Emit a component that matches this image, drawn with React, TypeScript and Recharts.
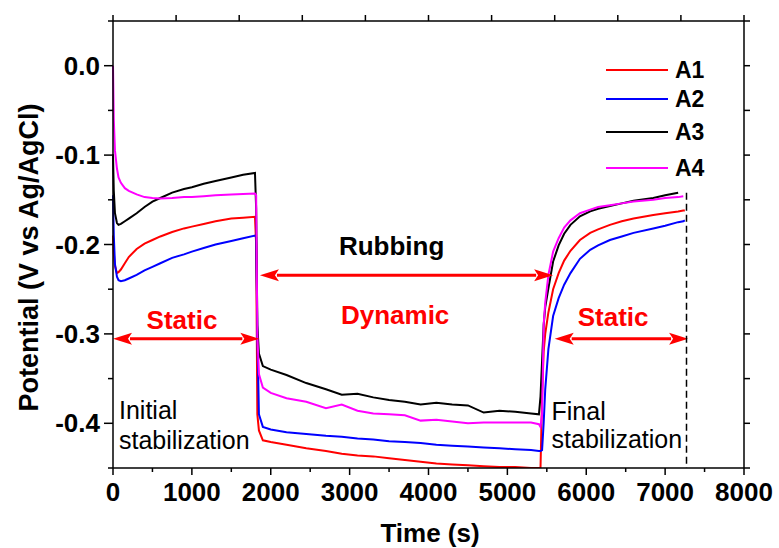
import React from 'react';
import { LineChart, Line, XAxis, YAxis, Legend, Label, ReferenceLine, ReferenceDot } from 'recharts';

const FONT = '"Liberation Sans", Arial, Helvetica, sans-serif';

// time grid (s)
const timeS = [
  0, 10, 25, 50, 70, 100, 150, 200, 300, 400, 500, 600,
  750, 900, 1000, 1150, 1300, 1500, 1650, 1800, 1815, 1830, 1850, 1900,
  2000, 2200, 2450, 2700, 2900, 3100, 3300, 3500, 3700, 3900, 4100, 4300,
  4500, 4700, 4900, 5100, 5300, 5400, 5420, 5440, 5460, 5480, 5520, 5580,
  5650, 5720, 5800, 5920, 6050, 6150, 6300, 6450, 6600, 6850, 7000, 7165,
  7230, 7250,
];

// potential (V vs Ag/AgCl)
const a1 = [
  -0.190, -0.210, -0.224, -0.232, -0.231, -0.228, -0.221, -0.214, -0.205, -0.199, -0.195, -0.191,
  -0.186, -0.182, -0.180, -0.177, -0.174, -0.171, -0.170, -0.169, -0.200, -0.390, -0.408, -0.419,
  -0.421, -0.424, -0.428, -0.431, -0.434, -0.436, -0.437, -0.439, -0.441, -0.443, -0.445, -0.446,
  -0.447, -0.448, -0.449, -0.449, -0.450, -0.450, -0.450, -0.370, -0.320, -0.300, -0.276, -0.250,
  -0.232, -0.218, -0.207, -0.195, -0.187, -0.183, -0.178, -0.174, -0.171, -0.167, -0.165, -0.163,
  -0.162, -0.162,
];
const a2 = [
  -0.145, -0.190, -0.222, -0.236, -0.240, -0.241, -0.240, -0.238, -0.234, -0.229, -0.225, -0.221,
  -0.215, -0.211, -0.208, -0.204, -0.200, -0.196, -0.193, -0.190, -0.192, -0.300, -0.390, -0.404,
  -0.407, -0.410, -0.412, -0.414, -0.415, -0.417, -0.418, -0.420, -0.421, -0.422, -0.424, -0.425,
  -0.426, -0.427, -0.428, -0.429, -0.430, -0.431, -0.431, -0.430, -0.400, -0.362, -0.317, -0.280,
  -0.260, -0.245, -0.232, -0.216, -0.206, -0.201, -0.195, -0.191, -0.187, -0.182, -0.179, -0.175,
  -0.174, -0.173,
];
const a3 = [
  -0.099, -0.140, -0.165, -0.176, -0.178, -0.177, -0.174, -0.171, -0.165, -0.158, -0.152, -0.148,
  -0.142, -0.138, -0.136, -0.132, -0.129, -0.125, -0.122, -0.120, -0.160, -0.290, -0.322, -0.336,
  -0.340, -0.346, -0.355, -0.362, -0.368, -0.367, -0.371, -0.374, -0.376, -0.379, -0.377, -0.379,
  -0.380, -0.388, -0.386, -0.387, -0.389, -0.390, -0.370, -0.330, -0.290, -0.270, -0.249, -0.219,
  -0.201, -0.188, -0.178, -0.1685, -0.163, -0.160, -0.157, -0.154, -0.151, -0.148, -0.145, -0.142,
  null, null,
];
const a4 = [
  0.000, -0.060, -0.095, -0.115, -0.125, -0.131, -0.137, -0.140, -0.144, -0.147, -0.148, -0.1485,
  -0.148, -0.147, -0.147, -0.146, -0.145, -0.144, -0.1435, -0.143, -0.145, -0.300, -0.345, -0.360,
  -0.366, -0.372, -0.376, -0.383, -0.379, -0.386, -0.389, -0.390, -0.391, -0.397, -0.396, -0.398,
  -0.400, -0.399, -0.399, -0.399, -0.399, -0.401, -0.404, -0.390, -0.290, -0.265, -0.234, -0.208,
  -0.193, -0.181, -0.173, -0.165, -0.161, -0.158, -0.156, -0.154, -0.152, -0.150, -0.148, -0.147,
  -0.146, null,
];

const seriesNames = ['A1', 'A2', 'A3', 'A4'];
const seriesColors = ['#ff0000', '#0000ff', '#000000', '#ff00ff'];

const xTicks = [0, 500, 1000, 1500, 2000, 2500, 3000, 3500, 4000, 4500, 5000, 5500, 6000, 6500, 7000, 7500, 8000];
const topTicks = [0, 800, 1600, 2400, 3200, 4000, 4800, 5600, 6400, 7200, 8000];
const yTicks = [-0.45, -0.4, -0.35, -0.3, -0.25, -0.2, -0.15, -0.1, -0.05, 0, 0.05];

const legendRowCenters = [70, 99, 132, 168];

const data = timeS.map((t, i) => ({ t, A1: a1[i], A2: a2[i], A3: a3[i], A4: a4[i] }));

const isMajorY = (v: number) => Math.abs(v * 10 - Math.round(v * 10)) < 1e-6;

function BottomTick({ x, y, payload }: any) {
  const major = payload.value % 1000 === 0;
  return (
    <g>
      <line x1={x} y1={y} x2={x} y2={y + (major ? 7 : 4)} stroke="#000" strokeWidth={1.5} />
      {major && (
        <text x={x} y={y + 33} textAnchor="middle" fontSize={26} fontWeight="bold" fontFamily={FONT} fill="#000">
          {payload.value}
        </text>
      )}
    </g>
  );
}

function LeftTick({ x, y, payload }: any) {
  const major = isMajorY(payload.value);
  return (
    <g>
      <line x1={x - (major ? 9 : 5)} y1={y} x2={x} y2={y} stroke="#000" strokeWidth={1.5} />
      {major && (
        <text x={x - 13} y={y + 9} textAnchor="end" fontSize={26} fontWeight="bold" fontFamily={FONT} fill="#000">
          {payload.value.toFixed(1)}
        </text>
      )}
    </g>
  );
}

function RightTick({ x, y }: any) {
  return <line x1={x} y1={y} x2={x + 6} y2={y} stroke="#000" strokeWidth={1.5} />;
}

function TopTick({ x, y }: any) {
  return <line x1={x} y1={y} x2={x} y2={y - 6} stroke="#000" strokeWidth={1.5} />;
}

function arrowShape(props: any) {
  const { x1, y1, x2, y2 } = props;
  const h = 19;
  const w = 6;
  return (
    <g>
      <line x1={x1 + h - 2} y1={y1} x2={x2 - h + 2} y2={y2} stroke="#ff0000" strokeWidth={3} />
      <polygon points={`${x1},${y1} ${x1 + h},${y1 - w} ${x1 + h - 4},${y1} ${x1 + h},${y1 + w}`} fill="#ff0000" />
      <polygon points={`${x2},${y2} ${x2 - h},${y2 - w} ${x2 - h + 4},${y2} ${x2 - h},${y2 + w}`} fill="#ff0000" />
    </g>
  );
}

function textShape(text: string, color: string, bold: boolean, anchor: 'start' | 'middle') {
  return (p: any) => (
    <text
      x={p.cx}
      y={p.cy}
      textAnchor={anchor}
      fontSize={bold ? 26 : 25}
      fontWeight={bold ? 'bold' : 'normal'}
      fontFamily={FONT}
      fill={color}
    >
      {text}
    </text>
  );
}

function LegendBox({ payload }: any) {
  return (
    <div style={{ position: 'relative' }}>
      {(payload || []).map((p: any, i: number) => (
        <div
          key={p.value}
          style={{
            position: 'absolute',
            left: 0,
            top: legendRowCenters[i] - 13,
            height: 26,
            display: 'flex',
            alignItems: 'center',
            whiteSpace: 'nowrap',
          }}
        >
          <div style={{ width: 62, height: 2, background: p.color, marginRight: 7 }} />
          <span style={{ fontFamily: FONT, fontWeight: 'bold', fontSize: 23, lineHeight: '26px', color: '#000' }}>
            {p.value}
          </span>
        </div>
      ))}
    </div>
  );
}

export default function App() {
  return (
    <div style={{ position: 'absolute', left: 0, top: 0, width: 779, height: 548, background: '#fff' }}>
      <LineChart width={779} height={548} data={data} margin={{ top: 15, right: 25, bottom: 20, left: 13 }}>
        <XAxis
          xAxisId="bottom"
          dataKey="t"
          type="number"
          domain={[0, 8000]}
          ticks={xTicks}
          interval={0}
          height={60}
          tickSize={0}
          tickMargin={0}
          tickLine={false}
          tick={<BottomTick />}
          axisLine={{ stroke: '#000', strokeWidth: 1.5 }}
        >
          <Label
            content={({ viewBox }: any) => (
              <text
                x={viewBox.x + viewBox.width / 2 + 1.5}
                y={viewBox.y + 74}
                textAnchor="middle"
                fontSize={26}
                fontWeight="bold"
                fontFamily={FONT}
                fill="#000"
              >
                Time (s)
              </text>
            )}
          />
        </XAxis>
        <XAxis
          xAxisId="top"
          orientation="top"
          dataKey="t"
          type="number"
          domain={[0, 8000]}
          allowDataOverflow
          ticks={topTicks}
          interval={0}
          height={6}
          tickSize={0}
          tickMargin={0}
          tickLine={false}
          tick={<TopTick />}
          axisLine={{ stroke: '#000', strokeWidth: 1.5 }}
        />
        <YAxis
          yAxisId="left"
          type="number"
          domain={[-0.45, 0.05]}
          allowDataOverflow
          ticks={yTicks}
          interval={0}
          width={100}
          tickSize={0}
          tickMargin={0}
          tickLine={false}
          tick={<LeftTick />}
          axisLine={{ stroke: '#000', strokeWidth: 1.5 }}
        >
          <Label
            content={({ viewBox }: any) => {
              const cx = viewBox.x + 24.5;
              const cy = viewBox.y + viewBox.height / 2 + 13;
              return (
                <text
                  x={cx}
                  y={cy}
                  transform={`rotate(-90 ${cx} ${cy})`}
                  textAnchor="middle"
                  fontSize={27}
                  fontWeight="bold"
                  fontFamily={FONT}
                  fill="#000"
                >
                  Potential (V vs Ag/AgCl)
                </text>
              );
            }}
          />
        </YAxis>
        <YAxis
          yAxisId="right"
          orientation="right"
          type="number"
          domain={[-0.45, 0.05]}
          allowDataOverflow
          ticks={yTicks}
          interval={0}
          width={10}
          tickSize={0}
          tickMargin={0}
          tickLine={false}
          tick={<RightTick />}
          axisLine={{ stroke: '#000', strokeWidth: 1.5 }}
        />
        <Legend
          layout="vertical"
          align="center"
          verticalAlign="middle"
          content={<LegendBox />}
          wrapperStyle={{ left: 606, top: 0, width: 120, height: 0 }}
        />

        {seriesNames.map((name, i) => (
          <Line
            key={name}
            xAxisId="bottom"
            yAxisId="left"
            type="linear"
            dataKey={name}
            name={name}
            stroke={seriesColors[i]}
            strokeWidth={2}
            dot={false}
            activeDot={false}
            isAnimationActive={false}
          />
        ))}

        {/* phase arrows */}
        <ReferenceLine xAxisId="bottom" yAxisId="left" segment={[{ x: 0, y: -0.3055 }, { x: 1855, y: -0.3055 }]} shape={arrowShape} />
        <ReferenceLine xAxisId="bottom" yAxisId="left" segment={[{ x: 1863, y: -0.2343 }, { x: 5580, y: -0.2343 }]} shape={arrowShape} />
        <ReferenceLine xAxisId="bottom" yAxisId="left" segment={[{ x: 5600, y: -0.3055 }, { x: 7291, y: -0.3055 }]} shape={arrowShape} />
        <ReferenceLine
          xAxisId="bottom"
          yAxisId="left"
          segment={[{ x: 7271, y: -0.142 }, { x: 7271, y: -0.45 }]}
          stroke="#000"
          strokeWidth={1.5}
          strokeDasharray="7 4"
        />

        {/* labels */}
        <ReferenceDot xAxisId="bottom" yAxisId="left" x={875} y={-0.2949} r={0} shape={textShape('Static', '#ff0000', true, 'middle')} />
        <ReferenceDot xAxisId="bottom" yAxisId="left" x={3532} y={-0.2117} r={0} shape={textShape('Rubbing', '#000', true, 'middle')} />
        <ReferenceDot xAxisId="bottom" yAxisId="left" x={3577} y={-0.2889} r={0} shape={textShape('Dynamic', '#ff0000', true, 'middle')} />
        <ReferenceDot xAxisId="bottom" yAxisId="left" x={6341} y={-0.2908} r={0} shape={textShape('Static', '#ff0000', true, 'middle')} />
        <ReferenceDot xAxisId="bottom" yAxisId="left" x={76} y={-0.3953} r={0} shape={textShape('Initial', '#000', false, 'start')} />
        <ReferenceDot xAxisId="bottom" yAxisId="left" x={76} y={-0.4288} r={0} shape={textShape('stabilization', '#000', false, 'start')} />
        <ReferenceDot xAxisId="bottom" yAxisId="left" x={5560} y={-0.396} r={0} shape={textShape('Final', '#000', false, 'start')} />
        <ReferenceDot xAxisId="bottom" yAxisId="left" x={5560} y={-0.4281} r={0} shape={textShape('stabilization', '#000', false, 'start')} />
      </LineChart>
    </div>
  );
}
